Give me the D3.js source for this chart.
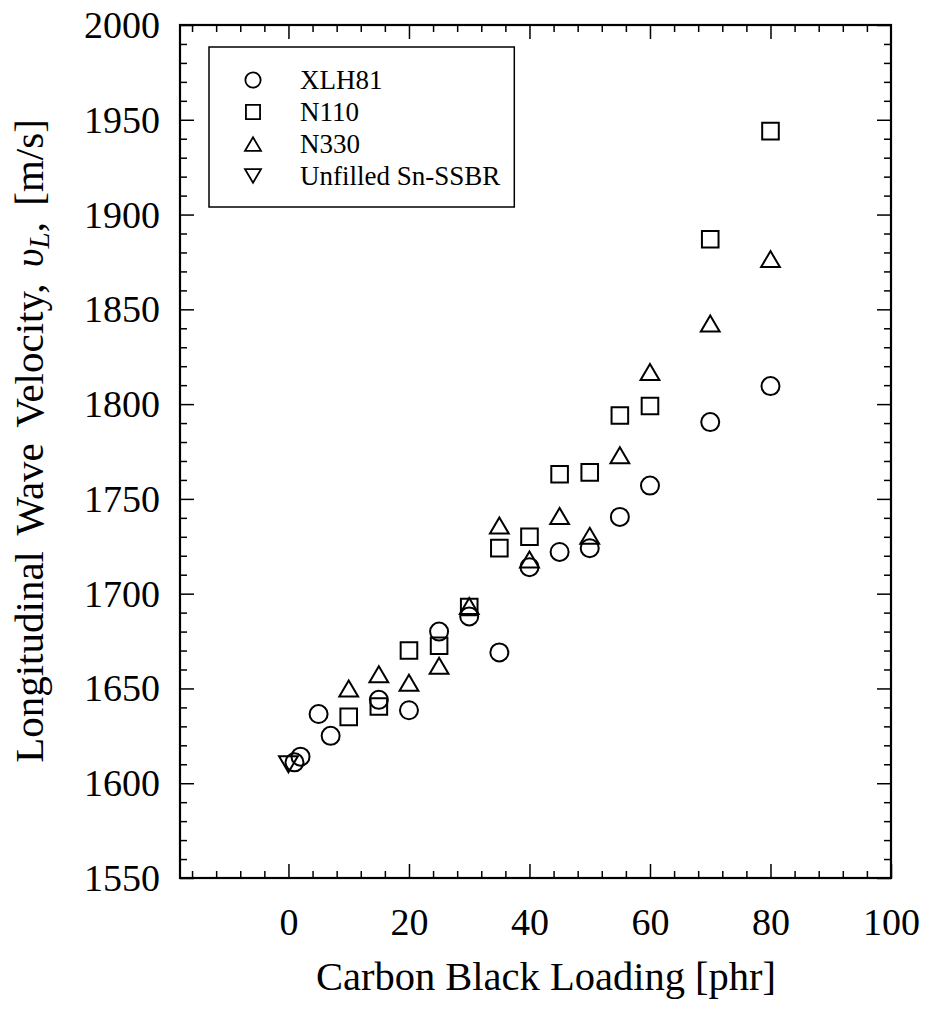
<!DOCTYPE html>
<html>
<head>
<meta charset="utf-8">
<script src="https://cdn.jsdelivr.net/npm/d3@7/dist/d3.min.js"></script>
<style>
  html, body { margin: 0; padding: 0; background: #fff; }
  svg { display: block; font-family: "Liberation Serif", "Times New Roman", serif; }
</style>
</head>
<body>
<svg id="chart" width="927" height="1009"></svg>
<script>
// Longitudinal wave velocity vs. carbon black loading
const seriesNames = ["XLH81", "N110", "N330", "Unfilled Sn-SSBR"];

const xlh81Loading = [1, 2, 5, 7, 15, 20, 25, 30, 35, 40, 45, 50, 55, 60, 70, 80];
const xlh81Velocity = [1611, 1614, 1636.5, 1625, 1644, 1638.5, 1680, 1688, 1669, 1714, 1722, 1724, 1740.5, 1757, 1790.5, 1809.5];

const n110Loading = [10, 15, 20, 25, 30, 35, 40, 45, 50, 55, 60, 70, 80];
const n110Velocity = [1635, 1640.5, 1670, 1672.5, 1693, 1724, 1730, 1763, 1764, 1794, 1799, 1887, 1944];

const n330Loading = [10, 15, 20, 25, 30, 35, 40, 45, 50, 55, 60, 70, 80];
const n330Velocity = [1650, 1657.5, 1653, 1662, 1693.5, 1736, 1718, 1741, 1730.5, 1773, 1817, 1842.5, 1876.5];

const unfilledLoading = [0];
const unfilledVelocity = [1610];

const xTickLabels = [0, 20, 40, 60, 80, 100];
const yTickLabels = [1550, 1600, 1650, 1700, 1750, 1800, 1850, 1900, 1950, 2000];

const xTitle = "Carbon Black Loading [phr]";

// ---- layout ----
const margin = { left: 180, top: 25, right: 36, bottom: 131 };
const W = 927, H = 1009;
const iw = W - margin.left - margin.right;
const ih = H - margin.top - margin.bottom;

const svg = d3.select("#chart");
const g = svg.append("g").attr("transform", `translate(${margin.left},${margin.top})`);

const x = d3.scaleLinear().domain([-18, 100]).range([0, iw]);
const y = d3.scaleLinear().domain([1550, 2000]).range([ih, 0]);

const xMinor = d3.range(-16, 100, 4).filter(v => v % 20 !== 0);
const yMinor = d3.range(1560, 2000, 10).filter(v => v % 50 !== 0);

const MAJ = 14, MIN = 7;
const tickFont = 38;

function styleAxis(sel) {
  sel.select(".domain").remove();
  sel.selectAll(".tick line").attr("stroke", "#000").attr("stroke-width", 1.5);
}

// bottom axis: majors with labels, minors without
g.append("g").attr("transform", `translate(0,${ih})`)
  .call(d3.axisBottom(x).tickValues(xTickLabels).tickSize(-MAJ).tickFormat(d3.format("d")))
  .call(styleAxis)
  .call(s => s.selectAll("text").attr("y", 57).attr("dy", null)
    .attr("font-size", tickFont).attr("fill", "#000").attr("font-family", "Liberation Serif"));
g.append("g").attr("transform", `translate(0,${ih})`)
  .call(d3.axisBottom(x).tickValues(xMinor).tickSize(-MIN).tickFormat(""))
  .call(styleAxis);

// top mirror axis
g.append("g")
  .call(d3.axisTop(x).tickValues(xTickLabels.filter(v => v < 100)).tickSize(-MAJ).tickFormat(""))
  .call(styleAxis);
g.append("g")
  .call(d3.axisTop(x).tickValues(xMinor).tickSize(-MIN).tickFormat(""))
  .call(styleAxis);

// left axis
g.append("g")
  .call(d3.axisLeft(y).tickValues(yTickLabels).tickSize(-MAJ).tickFormat(d3.format("d")))
  .call(styleAxis)
  .call(s => s.selectAll("text").attr("x", -20).attr("dy", "0.33em")
    .attr("font-size", tickFont).attr("fill", "#000").attr("font-family", "Liberation Serif"));
g.append("g")
  .call(d3.axisLeft(y).tickValues(yMinor).tickSize(-MIN).tickFormat(""))
  .call(styleAxis);

// right mirror axis
g.append("g").attr("transform", `translate(${iw},0)`)
  .call(d3.axisRight(y).tickValues(yTickLabels).tickSize(-MAJ).tickFormat(""))
  .call(styleAxis);
g.append("g").attr("transform", `translate(${iw},0)`)
  .call(d3.axisRight(y).tickValues(yMinor).tickSize(-MIN).tickFormat(""))
  .call(styleAxis);

// frame
g.append("rect").attr("x", 0).attr("y", 0).attr("width", iw).attr("height", ih)
  .attr("fill", "none").attr("stroke", "#000").attr("stroke-width", 2.2);

// ---- markers ----
const markerShapes = {
  circle: (s) => { const r = 9 * s; return `M${r},0A${r},${r} 0 1,1 ${-r},0A${r},${r} 0 1,1 ${r},0Z`; },
  square: (s) => { const h = 8.3 * s; return `M${-h},${-h}H${h}V${h}H${-h}Z`; },
  triangle: (s) => { const w = 9.4 * s, h = 8 * s; return `M0,${-h}L${w},${h}L${-w},${h}Z`; },
  triangleDown: (s) => { const w = 9.4 * s, h = 8 * s; return `M0,${h}L${w},${-h}L${-w},${-h}Z`; }
};

const series = [
  { name: seriesNames[0], shape: "circle", xs: xlh81Loading, ys: xlh81Velocity },
  { name: seriesNames[1], shape: "square", xs: n110Loading, ys: n110Velocity },
  { name: seriesNames[2], shape: "triangle", xs: n330Loading, ys: n330Velocity },
  { name: seriesNames[3], shape: "triangleDown", xs: unfilledLoading, ys: unfilledVelocity }
];

series.forEach(sr => {
  g.append("g").selectAll("path")
    .data(sr.xs.map((v, i) => [v, sr.ys[i]]))
    .join("path")
    .attr("transform", d => `translate(${x(d[0])},${y(d[1])})`)
    .attr("d", markerShapes[sr.shape](1))
    .attr("fill", "none").attr("stroke", "#000").attr("stroke-width", 2);
});

// ---- legend ----
const leg = svg.append("g");
const legBox = leg.append("rect").attr("x", 209).attr("y", 47).attr("height", 160)
  .attr("fill", "#fff").attr("stroke", "#000").attr("stroke-width", 1.5);
let legTextEnd = 0;
series.forEach((sr, i) => {
  const cy = 80 + i * 32;
  leg.append("path").attr("transform", `translate(253,${cy})`)
    .attr("d", markerShapes[sr.shape](0.85))
    .attr("fill", "none").attr("stroke", "#000").attr("stroke-width", 1.8);
  const t = leg.append("text").attr("x", 300).attr("y", cy).attr("dy", "0.35em")
    .attr("font-size", 27).attr("fill", "#000").text(sr.name);
  legTextEnd = Math.max(legTextEnd, 300 + t.node().getComputedTextLength());
});
legBox.attr("width", legTextEnd + 14 - 209);

// ---- axis titles ----
svg.append("text")
  .attr("x", 546).attr("y", 990)
  .attr("text-anchor", "middle").attr("font-size", 40.5).attr("fill", "#000")
  .text(xTitle);

const yt = svg.append("text")
  .attr("transform", "translate(43,441) rotate(-90)")
  .attr("text-anchor", "middle").attr("font-size", 41).attr("fill", "#000")
  .attr("word-spacing", 6);
yt.append("tspan").text("Longitudinal Wave Velocity, ");
yt.append("tspan").attr("font-style", "italic").text("\u03C5");
yt.append("tspan").attr("font-style", "italic").attr("font-size", 29).attr("baseline-shift", "-20%").text("L");
yt.append("tspan").text(", [m/s]");
</script>
</body>
</html>
